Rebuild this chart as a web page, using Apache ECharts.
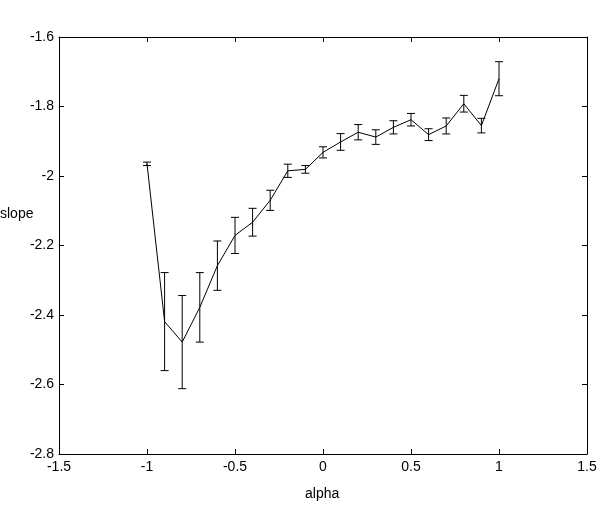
<!DOCTYPE html>
<html><head><meta charset="utf-8">
<script src="https://cdn.jsdelivr.net/npm/echarts@6/dist/echarts.min.js"></script>
<style>html,body{margin:0;padding:0;background:#fff}#c{width:605px;height:510px}</style>
</head><body><div id="c"></div>
<script>
var alpha = [-1.0,-0.9,-0.8,-0.7,-0.6,-0.5,-0.4,-0.3,-0.2,-0.1,0.0,0.1,0.2,0.3,0.4,0.5,0.6,0.7,0.8,0.9,1.0];
var slopeMean = [-1.965,-2.419,-2.478,-2.378,-2.258,-2.171,-2.133,-2.070,-1.985,-1.981,-1.932,-1.902,-1.874,-1.888,-1.860,-1.838,-1.881,-1.856,-1.792,-1.855,-1.720];
var slopeErr = [0.005,0.141,0.134,0.100,0.071,0.052,0.040,0.029,0.019,0.011,0.016,0.024,0.022,0.021,0.019,0.018,0.017,0.023,0.024,0.021,0.049];
var xTicks = [-1.5,-1,-0.5,0,0.5,1,1.5];
var yTicks = [-2.8,-2.6,-2.4,-2.2,-2,-1.8,-1.6];

var font = 'Liberation Sans, Arial, sans-serif';
var lineData = alpha.map(function(a,i){return [a, slopeMean[i]];});
var errData = alpha.map(function(a,i){return [a, slopeMean[i]-slopeErr[i], slopeMean[i]+slopeErr[i]];});
function fmt(v){return String(Math.round(v*10)/10);}
function common(){
  return {
    axisLine:{onZero:false,lineStyle:{color:'#000',width:1}},
    axisTick:{inside:true,length:5,lineStyle:{color:'#000'}},
    splitLine:{show:false}
  };
}
var chart = echarts.init(document.getElementById('c'));
chart.setOption({
  animation:false,
  backgroundColor:'#fff',
  grid:{left:59,right:18,top:37,bottom:56},
  xAxis:[
    Object.assign({type:'value',min:xTicks[0],max:xTicks[xTicks.length-1],interval:0.5,position:'bottom',
      axisLabel:{color:'#000',fontFamily:font,fontSize:14,margin:6,formatter:fmt}},common()),
    Object.assign({type:'value',min:xTicks[0],max:xTicks[xTicks.length-1],interval:0.5,position:'top',
      axisLabel:{show:false}},common())
  ],
  yAxis:[
    Object.assign({type:'value',min:yTicks[0],max:yTicks[yTicks.length-1],interval:0.2,position:'left',
      axisLabel:{color:'#000',fontFamily:font,fontSize:14,margin:5,formatter:fmt}},common()),
    Object.assign({type:'value',min:yTicks[0],max:yTicks[yTicks.length-1],interval:0.2,position:'right',
      axisLabel:{show:false}},common())
  ],
  graphic:[
    {type:'text',left:0,top:207,style:{text:'slope',font:'14px '+font,fill:'#000'}},
    {type:'text',left:305,top:487,style:{text:'alpha',font:'14px '+font,fill:'#000'}}
  ],
  series:[
    {type:'line',data:lineData,symbol:'none',lineStyle:{color:'#000',width:1},z:3},
    {type:'custom',data:errData,z:4,
     renderItem:function(params,api){
       var x=api.value(0), lo=api.value(1), hi=api.value(2);
       var p1=api.coord([x,lo]), p2=api.coord([x,hi]);
       var w=4;
       var st={stroke:'#000',lineWidth:1};
       return {type:'group',children:[
         {type:'line',shape:{x1:p1[0],y1:p1[1],x2:p2[0],y2:p2[1]},style:st},
         {type:'line',shape:{x1:p1[0]-w,y1:p1[1],x2:p1[0]+w,y2:p1[1]},style:st},
         {type:'line',shape:{x1:p2[0]-w,y1:p2[1],x2:p2[0]+w,y2:p2[1]},style:st}
       ]};
     },
     encode:{x:0,y:[1,2]}}
  ]
});
</script></body></html>
